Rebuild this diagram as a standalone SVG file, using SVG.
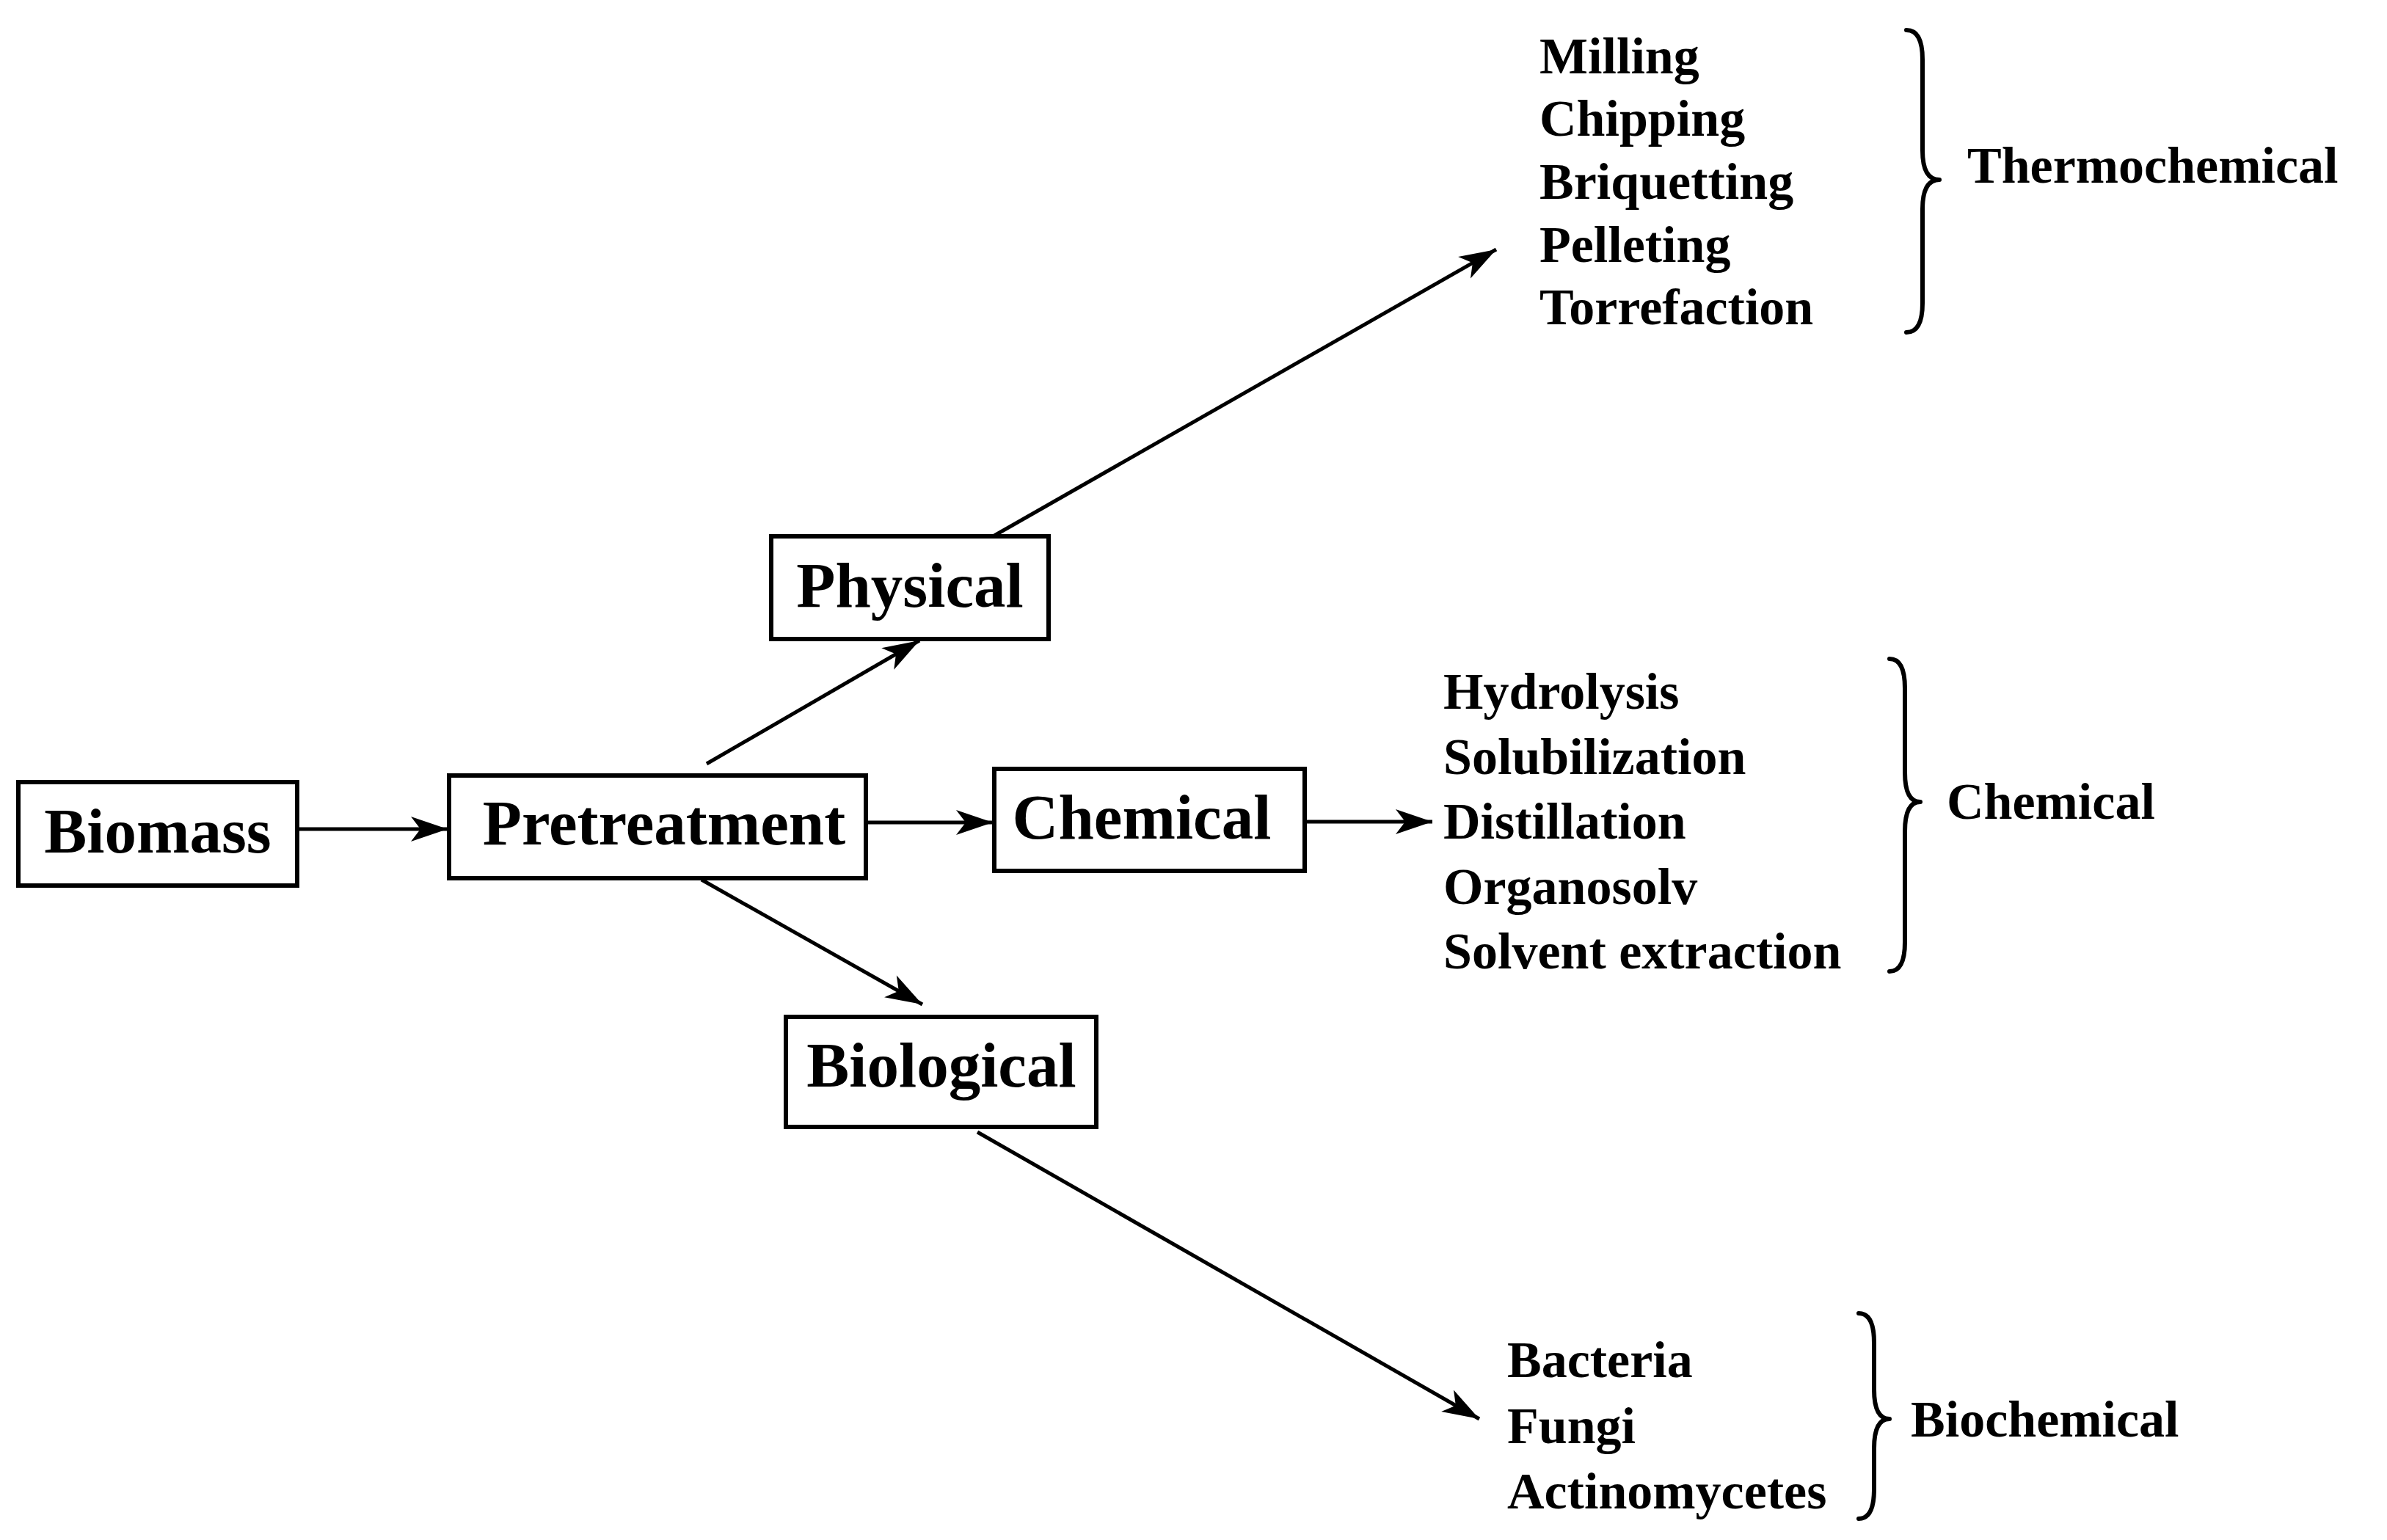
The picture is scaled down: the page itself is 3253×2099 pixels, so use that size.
<svg xmlns="http://www.w3.org/2000/svg" width="3253" height="2099" viewBox="0 0 3253 2099">
<style>
.box{fill:#fff;stroke:#000;stroke-width:6}
.bt{font-family:"Liberation Serif",serif;font-weight:bold;font-size:87px;text-anchor:middle}
.lt{font-family:"Liberation Serif",serif;font-weight:bold;font-size:70px}
.ln{stroke:#000;stroke-width:5;fill:none;marker-end:url(#ah)}
.br{stroke:#000;stroke-width:6;fill:none;stroke-linecap:round;stroke-linejoin:round}
</style>
<defs>
<marker id="ah" markerUnits="userSpaceOnUse" viewBox="-52 -20 54 40" refX="0" refY="0" markerWidth="54" markerHeight="40" orient="auto">
<path d="M0,0 L-50,-17 L-37,0 L-50,17 Z" fill="#000"/>
</marker>
</defs>
<rect width="3253" height="2099" fill="#fff"/>
<g id="connectors">
<line class="ln" x1="405" y1="1130" x2="610" y2="1130"/>
<line class="ln" x1="1180" y1="1121" x2="1353" y2="1121"/>
<line class="ln" x1="963" y1="1041" x2="1253" y2="873"/>
<line class="ln" x1="956" y1="1199" x2="1257" y2="1369"/>
<line class="ln" x1="1355" y1="730" x2="2039" y2="340"/>
<line class="ln" x1="1778" y1="1120" x2="1952" y2="1120"/>
<line class="ln" x1="1332" y1="1543" x2="2016" y2="1934"/>
</g>
<g id="biomass"><rect class="box" x="25" y="1066" width="380" height="141"/><text class="bt" x="215" y="1162">Biomass</text></g>
<g id="pretreatment"><rect class="box" x="612" y="1057" width="568" height="140"/><text class="bt" x="905" y="1151">Pretreatment</text></g>
<g id="physical"><rect class="box" x="1051" y="731" width="378" height="140"/><text class="bt" x="1240" y="827">Physical</text></g>
<g id="chemical"><rect class="box" x="1355" y="1048" width="423" height="139"/><text class="bt" x="1556" y="1143">Chemical</text></g>
<g id="biological"><rect class="box" x="1071" y="1386" width="423" height="150"/><text class="bt" x="1283" y="1481">Biological</text></g>
<g id="thermo-list">
<text class="lt" x="2098" y="100">Milling</text>
<text class="lt" x="2098" y="185">Chipping</text>
<text class="lt" x="2098" y="271">Briquetting</text>
<text class="lt" x="2098" y="357">Pelleting</text>
<text class="lt" x="2098" y="442">Torrefaction</text>
<path class="br" d="M2598,41 Q2620,41 2620,81 L2620,205 Q2620,245 2643,245 Q2620,245 2620,285 L2620,413 Q2620,453 2598,453"/>
<text class="lt" x="2681" y="249">Thermochemical</text>
</g>
<g id="chemical-list">
<text class="lt" x="1967" y="966">Hydrolysis</text>
<text class="lt" x="1967" y="1055">Solubilization</text>
<text class="lt" x="1967" y="1143">Distillation</text>
<text class="lt" x="1967" y="1232">Organosolv</text>
<text class="lt" x="1967" y="1320">Solvent extraction</text>
<path class="br" d="M2575,898 Q2596,898 2596,938 L2596,1053 Q2596,1093 2617,1093 Q2596,1093 2596,1133 L2596,1284 Q2596,1324 2575,1324"/>
<text class="lt" x="2653" y="1116">Chemical</text>
</g>
<g id="bio-list">
<text class="lt" x="2054" y="1877">Bacteria</text>
<text class="lt" x="2054" y="1967">Fungi</text>
<text class="lt" x="2054" y="2056">Actinomycetes</text>
<path class="br" d="M2533,1790 Q2554,1790 2554,1830 L2554,1894 Q2554,1934 2575,1934 Q2554,1934 2554,1974 L2554,2030 Q2554,2070 2533,2070"/>
<text class="lt" x="2604" y="1958">Biochemical</text>
</g>
</svg>
